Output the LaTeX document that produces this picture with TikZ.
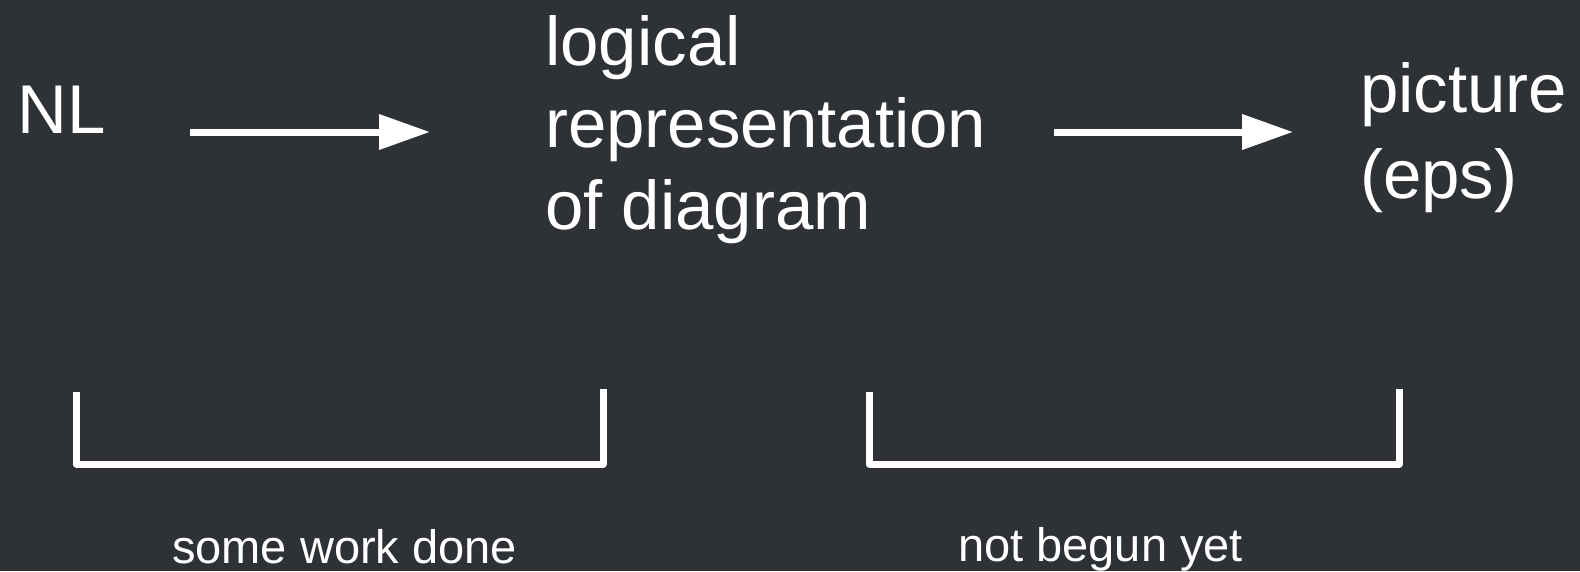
\documentclass[tikz,border=0pt]{standalone}
\usepackage{fontspec}
\setmainfont{Liberation Sans}
\usetikzlibrary{arrows.meta}
\definecolor{bgcol}{HTML}{2E3236}
\tikzset{
  bigtext/.style={text=white, inner sep=0pt, anchor=base west, align=left, font=\fontsize{69}{82}\selectfont},
  pictext/.style={bigtext, font=\fontsize{69}{86}\selectfont},
  smalltext/.style={text=white, inner sep=0pt, anchor=base west, font=\fontsize{47}{56}\selectfont},
  arr/.style={draw=white, line width=7pt, -{Triangle[length=51pt,width=34pt]}},
  brk/.style={draw=white, line width=7pt, line join=round}
}
\begin{document}
\begin{tikzpicture}[x=1pt, y=-1pt]
\fill[bgcol] (0,0) rectangle (1580,571);
\useasboundingbox (0,0) rectangle (1580,571);

\node[bigtext] (nl) at (17,133) {NL};
\node[bigtext] (lr) at (545,229) {logical\\representation\\of diagram};
\node[pictext] (pic) at (1360,198) {picture\\(eps)};

\coordinate (a1s) at (190,132);
\coordinate (a1e) at (430,132);
\coordinate (a2s) at (1054,132);
\coordinate (a2e) at (1293,132);
\draw[arr] (a1s) -- (a1e);
\draw[arr] (a2s) -- (a2e);

\draw[brk] (76,392) -- (76,464) -- (603,464) -- (603,389);
\draw[brk] (869,392) -- (869,464) -- (1399,464) -- (1399,389);

\node[smalltext] (swd) at (172,563) {some work done};
\node[smalltext] (nby) at (958,561) {not begun yet};
\end{tikzpicture}
\end{document}
